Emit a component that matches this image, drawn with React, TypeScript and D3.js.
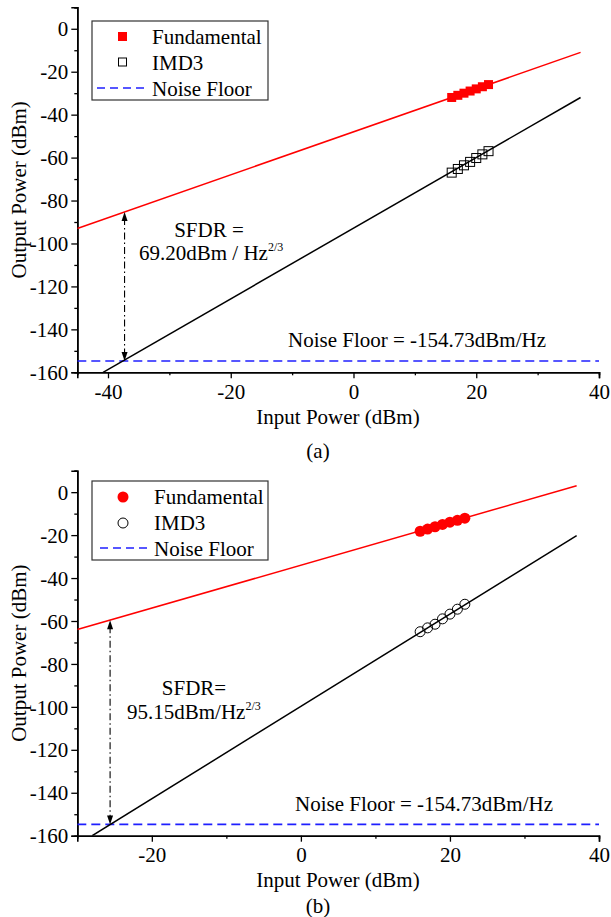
import React, { useEffect, useRef } from 'react';
import * as d3 from 'd3';

// measured points (input power in dBm, output power in dBm)
const inputPower = [16, 17, 18, 19, 20, 21, 22];
const fundamentalA = [-32, -31, -30, -29, -28, -27, -26];
const imd3A = [-67, -65.3, -63.6, -62, -60.2, -58.5, -57];
const fundamentalB = [-18.2, -17.2, -16.1, -15, -14, -13.1, -12.1];
const imd3B = [-65, -63.2, -61.5, -59, -56.8, -54.5, -52.2];

// fitted lines as [input, output] end points
const fundamentalFitA = [[-45, -93], [37, -11]];
const imd3FitA = [[-40.8, -160], [37, -32]];
const fundamentalFitB = [[-30, -64], [37, 3]];
const imd3FitB = [[-28, -160], [37, -20.2]];

const noiseFloor = -154.73;
// SFDR arrow: [input power, top of arrow]
const sfdrA = [-37.3, -85.3];
const sfdrB = [-25.6, -59.6];

const yTicks = [0, -20, -40, -60, -80, -100, -120, -140, -160];
const yMinor = [10, -10, -30, -50, -70, -90, -110, -130, -150];
const xTicksA = [-40, -20, 0, 20, 40];
const xMinorA = [-30, -10, 10, 30];
const xTicksB = [-20, 0, 20, 40];
const xMinorB = [-10, 10, 30];

const FONT = "'Liberation Serif', 'Times New Roman', 'DejaVu Serif', serif";

const txt = (sel, size = 21) =>
  sel.style('font-family', FONT).style('font-size', `${size}px`).attr('fill', '#000');

const drawPanel = (svg, p) => {
  const x = d3.scaleLinear().domain(p.xDomain).range([77.3, 599]);
  const y = d3.scaleLinear().domain([-160, 10]).range([p.bottom, p.top]);
  const g = svg.append('g');

  // axes
  const yAxis = g.append('g').attr('transform', `translate(${x.range()[0]},0)`);
  yAxis.call(d3.axisLeft(y).tickValues(yTicks).tickSize(6).tickPadding(3).tickFormat((d) => `${d}`));
  yAxis.append('g').call(d3.axisLeft(y).tickValues(yMinor).tickSize(3).tickFormat(() => ''));
  const xAxis = g.append('g').attr('transform', `translate(0,${p.bottom})`);
  xAxis.call(d3.axisBottom(x).tickValues(p.xTicks).tickSize(6).tickPadding(4).tickFormat((d) => `${d}`));
  xAxis.append('g').call(d3.axisBottom(x).tickValues(p.xMinor).tickSize(3).tickFormat(() => ''));
  g.selectAll('.domain').attr('stroke', '#000').attr('stroke-width', 1.6);
  g.selectAll('.tick line').attr('stroke', '#000').attr('stroke-width', 1.3);
  txt(g.selectAll('.tick text'));
  xAxis.selectAll('.tick text').attr('dy', '0.78em');
  yAxis.selectAll('.tick text').attr('dy', '0.34em');

  // axis titles
  txt(g.append('text'))
    .attr('x', 338)
    .attr('y', p.bottom + p.titleGap)
    .attr('text-anchor', 'middle')
    .text('Input Power (dBm)');
  txt(g.append('text'))
    .attr('transform', `translate(26,${(p.top + p.bottom) / 2}) rotate(-90)`)
    .attr('text-anchor', 'middle')
    .text('Output Power (dBm)');
  txt(g.append('text'))
    .attr('x', 318)
    .attr('y', p.bottom + p.captionGap)
    .attr('text-anchor', 'middle')
    .text(p.caption);

  const clipId = `clip-${p.caption.replace(/\W/g, '')}`;
  g.append('clipPath')
    .attr('id', clipId)
    .append('rect')
    .attr('x', x.range()[0])
    .attr('y', p.top)
    .attr('width', x.range()[1] - x.range()[0])
    .attr('height', p.bottom - p.top);
  const plot = g.append('g').attr('clip-path', `url(#${clipId})`);

  // noise floor
  plot.append('line')
    .attr('x1', x.range()[0])
    .attr('x2', x.range()[1])
    .attr('y1', y(noiseFloor))
    .attr('y2', y(noiseFloor))
    .attr('stroke', '#1f1fff')
    .attr('stroke-width', 1.6)
    .attr('stroke-dasharray', '9,5');

  const line = d3.line().x((d) => x(d[0])).y((d) => y(d[1]));
  plot.append('path').attr('d', line(p.fundFit)).attr('fill', 'none').attr('stroke', '#ff0000').attr('stroke-width', 1.5);
  plot.append('path').attr('d', line(p.imdFit)).attr('fill', 'none').attr('stroke', '#000').attr('stroke-width', 1.5);

  // SFDR arrow
  const ax = x(p.sfdr[0]);
  const aTop = y(p.sfdr[1]);
  const aBot = y(noiseFloor);
  plot.append('line')
    .attr('x1', ax).attr('x2', ax)
    .attr('y1', aTop + 6).attr('y2', aBot - 6)
    .attr('stroke', '#000')
    .attr('stroke-width', 1.1)
    .attr('stroke-dasharray', '7,3,1.5,3');
  plot.append('path')
    .attr('d', `M${ax},${aTop} L${ax - 3},${aTop + 9} L${ax + 3},${aTop + 9} Z`)
    .attr('fill', '#000');
  plot.append('path')
    .attr('d', `M${ax},${aBot} L${ax - 3},${aBot - 9} L${ax + 3},${aBot - 9} Z`)
    .attr('fill', '#000');

  // markers
  const fundPts = inputPower.map((v, i) => [v, p.fund[i]]);
  const imdPts = inputPower.map((v, i) => [v, p.imd[i]]);
  if (p.shape === 'square') {
    plot.selectAll('.fund').data(fundPts).enter().append('rect')
      .attr('x', (d) => x(d[0]) - 4.5).attr('y', (d) => y(d[1]) - 4.5)
      .attr('width', 9).attr('height', 9).attr('fill', '#ff0000');
    plot.selectAll('.imd').data(imdPts).enter().append('rect')
      .attr('x', (d) => x(d[0]) - 4.5).attr('y', (d) => y(d[1]) - 4.5)
      .attr('width', 9).attr('height', 9).attr('fill', 'none').attr('stroke', '#000').attr('stroke-width', 1);
  } else {
    plot.selectAll('.fund').data(fundPts).enter().append('circle')
      .attr('cx', (d) => x(d[0])).attr('cy', (d) => y(d[1]))
      .attr('r', 5.5).attr('fill', '#ff0000');
    plot.selectAll('.imd').data(imdPts).enter().append('circle')
      .attr('cx', (d) => x(d[0])).attr('cy', (d) => y(d[1]))
      .attr('r', 5).attr('fill', 'none').attr('stroke', '#000').attr('stroke-width', 1);
  }

  // annotations
  txt(g.append('text'))
    .attr('x', p.sfdrText[0]).attr('y', p.sfdrText[1])
    .attr('text-anchor', 'middle')
    .text(p.sfdrLabel);
  const t2 = txt(g.append('text'))
    .attr('x', p.sfdrText[2]).attr('y', p.sfdrText[3]);
  t2.append('tspan').text(p.sfdrValue);
  t2.append('tspan').attr('dy', -9).style('font-size', '12px').text('2/3');
  txt(g.append('text'))
    .attr('x', p.noiseText[0]).attr('y', p.noiseText[1])
    .text('Noise Floor = -154.73dBm/Hz');

  // legend
  const lg = g.append('g').attr('transform', `translate(92,${p.legendTop})`);
  lg.append('rect').attr('width', 176).attr('height', 79).attr('fill', '#fff').attr('stroke', '#333').attr('stroke-width', 1.2);
  const rows = ['Fundamental', 'IMD3', 'Noise Floor'];
  rows.forEach((name, i) => {
    const cy = 15.5 + i * 26;
    txt(lg.append('text')).attr('x', p.legendText).attr('y', cy + 7).text(name);
  });
  if (p.shape === 'square') {
    lg.append('rect').attr('x', 26).attr('y', 11).attr('width', 9).attr('height', 9).attr('fill', '#ff0000');
    lg.append('rect').attr('x', 26.5).attr('y', 37).attr('width', 8).attr('height', 8).attr('fill', 'none').attr('stroke', '#000').attr('stroke-width', 1);
  } else {
    lg.append('circle').attr('cx', 31).attr('cy', 16).attr('r', 5.5).attr('fill', '#ff0000');
    lg.append('circle').attr('cx', 31).attr('cy', 42).attr('r', 5).attr('fill', 'none').attr('stroke', '#000').attr('stroke-width', 1);
  }
  lg.append('line')
    .attr('x1', p.legendLine[0]).attr('x2', p.legendLine[1])
    .attr('y1', 67).attr('y2', 67)
    .attr('stroke', '#1f1fff').attr('stroke-width', 1.6).attr('stroke-dasharray', '8,5');
};

const App = () => {
  const chartRef = useRef(null);

  useEffect(() => {
    const svg = d3.select(chartRef.current);
    svg.selectAll('*').remove();

    drawPanel(svg, {
      xDomain: [-45, 40],
      xTicks: xTicksA,
      xMinor: xMinorA,
      top: 7.3,
      bottom: 372.3,
      titleGap: 52,
      captionGap: 86,
      caption: '(a)',
      fund: fundamentalA,
      imd: imd3A,
      fundFit: fundamentalFitA,
      imdFit: imd3FitA,
      sfdr: sfdrA,
      shape: 'square',
      sfdrLabel: 'SFDR =',
      sfdrValue: '69.20dBm / Hz',
      sfdrText: [209, 237, 139, 260],
      noiseText: [288, 347],
      legendTop: 21,
      legendText: 60,
      legendLine: [5, 54],
    });

    drawPanel(svg, {
      xDomain: [-30, 40],
      xTicks: xTicksB,
      xMinor: xMinorB,
      top: 470.7,
      bottom: 835.7,
      titleGap: 51,
      captionGap: 77,
      caption: '(b)',
      fund: fundamentalB,
      imd: imd3B,
      fundFit: fundamentalFitB,
      imdFit: imd3FitB,
      sfdr: sfdrB,
      shape: 'circle',
      sfdrLabel: 'SFDR=',
      sfdrValue: '95.15dBm/Hz',
      sfdrText: [194, 695, 127, 719],
      noiseText: [295, 811],
      legendTop: 481,
      legendText: 62,
      legendLine: [8, 57],
    });
  // eslint-disable-next-line react-hooks/exhaustive-deps
  }, []);

  return (
    <svg
      ref={chartRef}
      width="611"
      height="917"
      style={{ position: 'absolute', left: 0, top: 0, background: '#fff' }}
    ></svg>
  );
};

export default App;
